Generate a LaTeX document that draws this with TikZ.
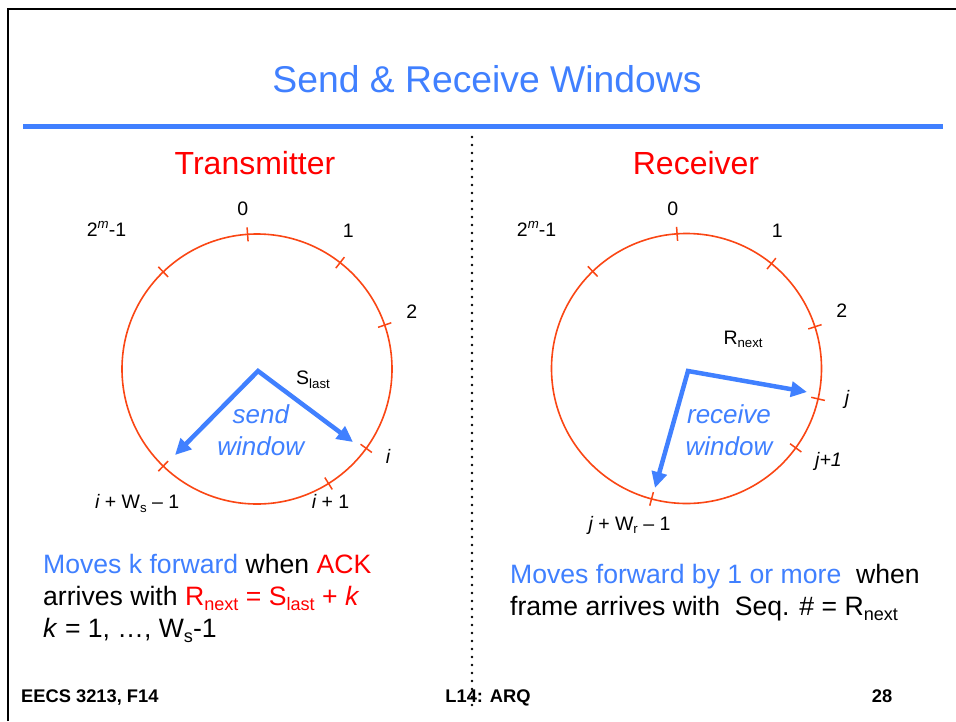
\documentclass[tikz,border=0pt]{standalone}
\usepackage{fontspec}
\setmainfont{Liberation Sans}
\usetikzlibrary{arrows.meta,calc}
\definecolor{slideblue}{RGB}{64,128,255}
\definecolor{slidered}{RGB}{255,0,0}
\definecolor{ringorange}{RGB}{250,70,20}
\newcommand\setfs[1]{\fontsize{#1}{#1}\selectfont}
% lowered / raised small text in the current font
\newcommand\dsub[1]{\raisebox{-0.2em}{\scalebox{0.68}{#1}}}
\newcommand\usup[1]{\raisebox{0.42em}{\scalebox{0.68}{#1}}}
\begin{document}
\begin{tikzpicture}[x=1pt,y=-1pt,
  ring/.style={draw=ringorange,line width=1.6pt},
  ringtick/.style={draw=ringorange,line width=1.5pt},
  lbl/.style={font=\setfs{19.5},inner sep=0pt},
  heading/.style={font=\setfs{32},text=slidered,inner sep=0pt,anchor=base},
  wintext/.style={font=\setfs{26}\itshape,text=slideblue,inner sep=0pt,align=center},
  body/.style={font=\setfs{26.6},inner sep=0pt,anchor=base west},
  foot/.style={font=\setfs{18.3}\bfseries,inner sep=0pt},
  winarrow/.style={draw=slideblue,line width=4.5pt,line join=miter,
    {Triangle[length=16pt,width=15pt]}-{Triangle[length=16pt,width=15pt]}},
]
\useasboundingbox (0,0) rectangle (956,721);
\fill[white] (0,0) rectangle (956,721);

% slide frame
\draw[line width=2pt] (7.5,721) -- (7.5,8.5) -- (956,8.5);

% title and rule
\node[font=\setfs{37.3},text=slideblue,inner sep=0pt,anchor=base] (title) at (487,92) {Send \& Receive Windows};
\fill[slideblue] (23,124) rectangle (943,129);

% column headings
\node[heading] (tx) at (255,174) {Transmitter};
\node[heading] (rx) at (696,174) {Receiver};

% ---- transmitter ring ----
\coordinate (lc) at (257,369);
\draw[ring] (lc) circle[radius=135];
\foreach \a in {-94,-52,-19,36,58,134,-134}
  \draw[ringtick] ($(lc)+(\a:128)$) -- ($(lc)+(\a:142)$);
\node[lbl,anchor=base] (l0) at (242.7,215) {0};
\node[lbl,anchor=base west] (lm) at (86.7,236.7) {2\usup{\itshape m}-1};
\node[lbl,anchor=base] (l1) at (348.3,237.7) {1};
\node[lbl,anchor=base] (l2) at (411.7,318.3) {2};
\node[lbl,anchor=base west] (slast) at (296,384.3) {S\dsub{last}};
\node[lbl,anchor=base] (li) at (388,463.3) {\itshape i};
\node[lbl,anchor=base west] (li1) at (311.7,508.3) {\itshape i\upshape{} + 1};
\node[lbl,anchor=base west] (liw) at (95,508.3) {\itshape i\upshape{} + W\dsub{s} -- 1};
\node[wintext,anchor=base] (sendw) at (260.8,455) {send\\[5.7pt]window};

\coordinate (lapex) at (258,371);
\coordinate (ltipa) at (175,455);
\coordinate (ltipb) at (353,442);
\draw[winarrow] (ltipa) -- (lapex) -- (ltipb);

% ---- receiver ring ----
\coordinate (rc) at (686.5,368.5);
\draw[ring] (rc) circle[radius=135];
\foreach \a in {-94,-51,-18,13,36,105,-134}
  \draw[ringtick] ($(rc)+(\a:128)$) -- ($(rc)+(\a:142)$);
\node[lbl,anchor=base] (r0) at (672.7,215) {0};
\node[lbl,anchor=base west] (rm) at (516.7,236.7) {2\usup{\itshape m}-1};
\node[lbl,anchor=base] (r1) at (777.3,237.7) {1};
\node[lbl,anchor=base] (r2) at (841.7,317.3) {2};
\node[lbl,anchor=base west] (rnext) at (723.3,344) {R\dsub{next}};
\node[lbl,anchor=base] (rj) at (847,404) {\itshape j};
\node[lbl,anchor=base west] (rj1) at (815,466) {\itshape j+1};
\node[lbl,anchor=base west] (rjw) at (588.3,530) {\itshape j\upshape{} + W\dsub{r} -- 1};
\node[wintext,anchor=base] (recvw) at (729,455) {receive\\[5.7pt]window};

\coordinate (rapex) at (688,371);
\coordinate (rtipa) at (807,392);
\coordinate (rtipb) at (655,488);
\draw[winarrow] (rtipa) -- (rapex) -- (rtipb);

% ---- explanatory text ----
\node[body] (tl1) at (43,573) {\textcolor{slideblue}{Moves k forward} when \textcolor{slidered}{ACK}};
\node[body] (tl2) at (43,605) {arrives with \textcolor{slidered}{R\dsub{next} = S\dsub{last} + \textit{k}}};
\node[body] (tl3) at (43,637) {\textit{k} = 1, …, W\dsub{s}-1};

\node[body] (rl1) at (510,583) {\textcolor{slideblue}{Moves forward by 1 or more}\ \ when};
\node[body] (rl2) at (510,615) {frame arrives with\ \ Seq. \# = R\dsub{next}};

% ---- footer ----
\node[foot,anchor=base west] (course) at (21,702) {EECS 3213, F14};
\node[foot,anchor=base] (lect) at (488,702) {L14: ARQ};
\node[foot,anchor=base] (page) at (882,702) {28};

% column separator
\draw[line width=2.6pt,line cap=round,dash pattern=on 0pt off 8pt] (472,137) -- (472,706);
\end{tikzpicture}
\end{document}
